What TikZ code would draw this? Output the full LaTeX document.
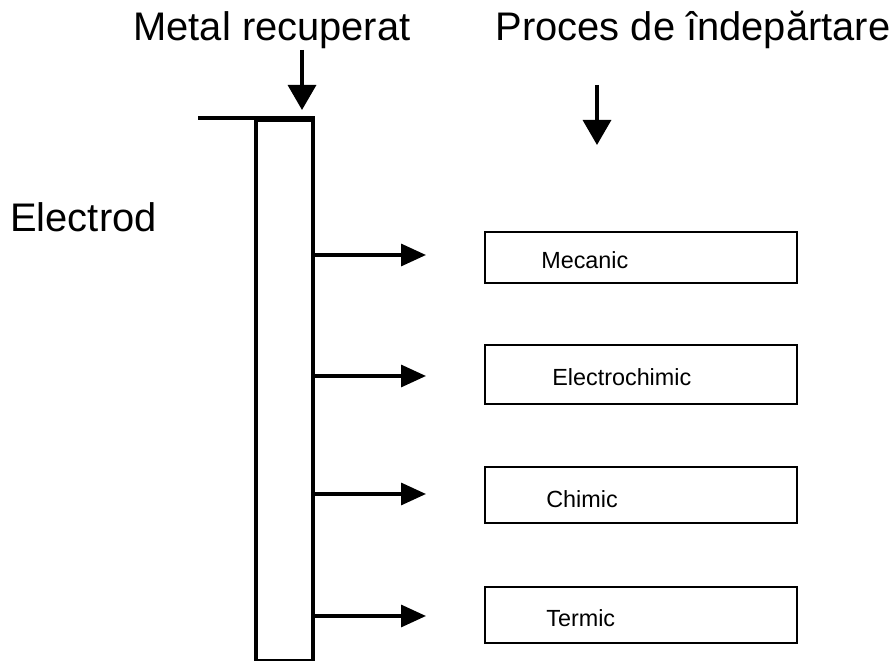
\documentclass[tikz,border=0pt]{standalone}
\usepackage{fontspec}
\setmainfont{Liberation Sans}
\usetikzlibrary{arrows.meta}
\begin{document}
\begin{tikzpicture}[x=0.02cm,y=-0.02cm,
  bigtxt/.style={font=\fontsize{22.7}{26}\selectfont, inner sep=0pt},
  procbox/.style={draw, line width=1.3pt, minimum width=6.24cm, minimum height=1.1cm, inner sep=0pt},
  boxtxt/.style={font=\fontsize{13.3}{16}\selectfont, inner sep=0pt},
  harrow/.style={line width=1.9pt, -{Triangle[length=0.5cm,width=0.44cm]}},
  varrow/.style={line width=1.9pt, -{Triangle[length=0.5cm,width=0.56cm]}}]
\useasboundingbox (0,0) rectangle (894,661);

% electrode bar and its top lead
\node[draw, line width=2pt, minimum width=1.14cm, minimum height=10.82cm, inner sep=0pt, anchor=north west] (el) at (254,118) {};
\coordinate (lead) at (198,118);
\draw[line width=2pt] (lead) -- (el.north east);

% headings
\node[bigtxt] (metal) at (272,30) {Metal recuperat};
\node[bigtxt] (proces) at (693,30) {Proces de îndepărtare};
\node[bigtxt, anchor=west] (electrod) at (10,217) {Electrod};

% downward arrows
\coordinate (m1) at (302,50);
\coordinate (m2) at (302,110);
\draw[varrow] (m1) -- (m2);
\coordinate (p1) at (597,85);
\coordinate (p2) at (597,145);
\draw[varrow] (p1) -- (p2);

% process boxes
\node[procbox, minimum height=1.02cm] (b1) at (641,257.5) {};
\node[procbox, minimum height=1.18cm] (b2) at (641,374.5) {};
\node[procbox, minimum height=1.12cm] (b3) at (641,495) {};
\node[procbox, minimum height=1.12cm] (b4) at (641,615) {};
\node[boxtxt, anchor=west] (t1) at (541,260) {Mecanic};
\node[boxtxt, anchor=west] (t2) at (552,377) {Electrochimic};
\node[boxtxt, anchor=west] (t3) at (546,499) {Chimic};
\node[boxtxt, anchor=west] (t4) at (546,618) {Termic};

% arrows from the electrode
\foreach \i/\y in {1/255, 2/376, 3/494, 4/616}{
  \coordinate (tip\i) at (426,\y);
  \draw[harrow] (el.east |- tip\i) -- (tip\i);
}
\end{tikzpicture}
\end{document}
